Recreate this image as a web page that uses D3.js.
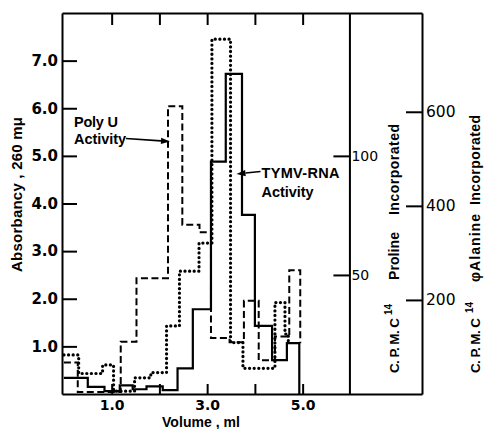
<!DOCTYPE html>
<html>
<head>
<meta charset="utf-8">
<script src="https://cdn.jsdelivr.net/npm/d3@7"></script>
<style>
  body { margin: 0; background: #fff; }
  text { fill: #000; }
</style>
</head>
<body>
<svg id="chart" width="484" height="429"></svg>
<script>
// Elution profile: volume breakpoints (ml) and the step height over each interval.
// Absorbancy at 260 mμ (solid)
const absorbEdges  = [0, 0.50, 0.85, 1.17, 1.44, 1.73, 2.07, 2.38, 2.70, 3.08, 3.39, 3.73, 4.00, 4.36, 4.67, 4.93];
const absorbValues = [0.34, 0.15, 0.06, 0.18, 0.10, 0.16, 0.08, 0.54, 1.78, 4.88, 6.72, 3.76, 1.43, 0.71, 1.07];
const absorbEnd = 0;

// Poly U activity, C.P.M. C14 φ-alanine incorporated (dashed)
const polyUEdges  = [0, 0.29, 1.19, 1.52, 2.18, 2.48, 2.84, 3.08, 3.47, 3.77, 4.08, 4.42, 4.72, 4.95];
const polyUValues = [67, 4, 111, 246, 612, 360, 344, 119, 110, 198, 72, 122, 263];
const polyUEnd = 108;

// TYMV-RNA activity, C.P.M. C14 proline incorporated (dotted)
const tymvEdges  = [0, 0.31, 0.81, 1.04, 1.48, 1.82, 2.15, 2.42, 2.83, 3.10, 3.49, 3.75, 4.42, 4.63, 4.70];
const tymvValues = [16.4, 8.6, 12.2, 1.2, 6.8, 9.0, 28.6, 51.6, 63.4, 149, 21.6, 10.8, 38.4, 25.2];
const tymvEnd = 21.4;

// Tick values
const volumeTicks = [1, 2, 3, 4, 5];
const volumeLabels = ["1.0", "", "3.0", "", "5.0"];
const absorbTicks = [1, 2, 3, 4, 5, 6, 7];
const prolineTicks = [50, 100];
const alanineTicks = [200, 400, 600];

const svg = d3.select("#chart");

const x = d3.scaleLinear().domain([-0.04, 7.5]).range([62, 422]);
const yAbs = d3.scaleLinear().domain([0, 8]).range([394, 13]);
const yPro = d3.scaleLinear().domain([0, 160]).range([394, 13]);
const yAla = d3.scaleLinear().domain([0, 810]).range([394, 13]);

const numFont = "'DejaVu Sans', sans-serif";
const textFont = "'Liberation Sans', Arial, sans-serif";

function styleAxis(g, size, weight) {
  g.attr("font-family", null).attr("font-size", null);
  g.select(".domain").attr("stroke", "#000").attr("stroke-width", 2);
  g.selectAll(".tick line").attr("stroke", "#000").attr("stroke-width", 2);
  g.selectAll(".tick text")
    .style("font-family", numFont)
    .style("font-size", size + "px")
    .style("font-weight", weight);
}

// Left: absorbancy axis, ticks pointing into the plot
svg.append("g")
  .attr("transform", "translate(62,0)")
  .call(d3.axisLeft(yAbs).tickValues(absorbTicks).tickFormat(d3.format(".1f"))
        .tickSizeInner(-15).tickSizeOuter(0).tickPadding(4))
  .call(g => styleAxis(g, 15, "bold"));

// Bottom: volume axis
svg.append("g")
  .attr("transform", "translate(0,394)")
  .call(d3.axisBottom(x).tickValues(volumeTicks).tickFormat((d, i) => volumeLabels[i])
        .tickSizeInner(-10).tickSizeOuter(0).tickPadding(6))
  .call(g => styleAxis(g, 14, "bold"));

// Top frame with volume ticks
svg.append("g")
  .attr("transform", "translate(0,13)")
  .call(d3.axisTop(x).tickValues(volumeTicks).tickFormat(() => "")
        .tickSizeInner(-12).tickSizeOuter(0))
  .call(g => styleAxis(g, 14, "bold"));

// Proline axis at 6.0 ml
svg.append("g")
  .attr("transform", `translate(${x(5.98)},0)`)
  .call(d3.axisRight(yPro).tickValues(prolineTicks).tickFormat(d3.format("d"))
        .tickSizeInner(-16).tickSizeOuter(0).tickPadding(2))
  .call(g => styleAxis(g, 14, "normal"));

// φ-alanine axis at the right edge
svg.append("g")
  .attr("transform", "translate(422,0)")
  .call(d3.axisRight(yAla).tickValues(alanineTicks).tickFormat(d3.format("d"))
        .tickSizeInner(-16).tickSizeOuter(0).tickPadding(4))
  .call(g => styleAxis(g, 15.5, "normal"));

// Step outlines
function stepPoints(edges, values, end, yScale) {
  const pts = [];
  values.forEach((v, i) => {
    pts.push([x(edges[i]), yScale(v)]);
    pts.push([x(edges[i + 1]), yScale(v)]);
  });
  pts.push([x(edges[edges.length - 1]), yScale(end)]);
  return pts;
}
const line = d3.line();

svg.append("path")
  .attr("d", line(stepPoints(polyUEdges, polyUValues, polyUEnd, yAla)))
  .attr("fill", "none").attr("stroke", "#000").attr("stroke-width", 2)
  .attr("stroke-dasharray", "7,3.5");

svg.append("path")
  .attr("d", line(stepPoints(tymvEdges, tymvValues, tymvEnd, yPro)))
  .attr("fill", "none").attr("stroke", "#000").attr("stroke-width", 3.2)
  .attr("stroke-linecap", "round")
  .attr("stroke-dasharray", "0.1,4.5");

svg.append("path")
  .attr("d", line(stepPoints(absorbEdges, absorbValues, absorbEnd, yAbs)))
  .attr("fill", "none").attr("stroke", "#000").attr("stroke-width", 2.2)
  .attr("stroke-linejoin", "miter");

// Axis titles
function label(txt, x0, y0, size, opts = {}) {
  const t = svg.append("text")
    .attr("transform", `translate(${x0},${y0})` + (opts.rotate ? " rotate(-90)" : ""))
    .attr("text-anchor", opts.anchor || "start")
    .style("font-family", opts.font || textFont)
    .style("font-size", size + "px")
    .style("font-weight", opts.weight || "bold")
    .text(txt);
  if (opts.length) t.attr("textLength", opts.length).attr("lengthAdjust", "spacing");
  return t;
}

label("Absorbancy , 260 mμ", 22, 194.5, 15, { rotate: true, anchor: "middle", length: 155 });
label("Volume , ml", 201, 427, 14, { anchor: "middle", length: 78 });

// Proline title, reading upward
label("C. P. M. C", 399, 373, 13.5, { rotate: true, length: 55 });
label("14", 392, 315, 10, { rotate: true, length: 11 });
label("Proline", 399, 280, 14, { rotate: true, length: 48 });
label("Incorporated", 399, 215, 14, { rotate: true, length: 91 });

// φ-alanine title, reading upward
label("C. P. M. C", 480, 373, 13.5, { rotate: true, length: 55 });
label("14", 473, 313, 10, { rotate: true, length: 11 });
label("φAlanine", 480, 282, 14, { rotate: true, length: 68 });
label("Incorporated", 480, 205, 14, { rotate: true, length: 90 });

// Annotations with arrows
label("Poly U", 74, 126.5, 14.5, { length: 44 });
label("Activity", 74, 143.5, 14.5, { length: 52 });
label("TYMV-RNA", 261.5, 178, 14.5, { length: 78 });
label("Activity", 261.5, 196.5, 14.5, { length: 52 });

function arrow(x1, y1, x2, y2) {
  const ang = Math.atan2(y2 - y1, x2 - x1);
  const len = 9, half = 3.2;
  const bx = x2 - len * Math.cos(ang), by = y2 - len * Math.sin(ang);
  svg.append("line")
    .attr("x1", x1).attr("y1", y1).attr("x2", bx).attr("y2", by)
    .attr("stroke", "#000").attr("stroke-width", 1.6);
  svg.append("path")
    .attr("d", d3.line()([
      [x2, y2],
      [bx + half * Math.sin(ang), by - half * Math.cos(ang)],
      [bx - half * Math.sin(ang), by + half * Math.cos(ang)]
    ]) + "Z")
    .attr("fill", "#000");
}
arrow(126, 138.5, 170, 141.5);
arrow(260.5, 171.5, 236.5, 174);
</script>
</body>
</html>
